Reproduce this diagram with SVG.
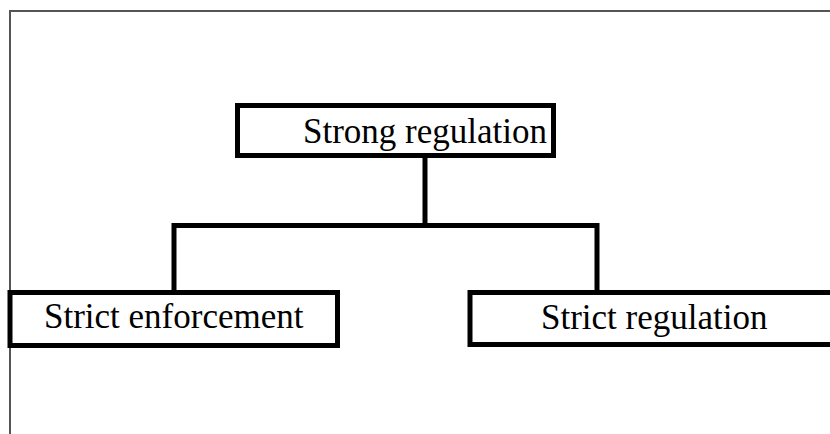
<svg xmlns="http://www.w3.org/2000/svg" width="830" height="434" viewBox="0 0 830 434">
  <style>
    .frame { fill: none; stroke: #555555; stroke-width: 2; }
    .box { fill: #ffffff; stroke: #000000; stroke-width: 5; }
    .conn { fill: none; stroke: #000000; stroke-width: 5; stroke-linecap: square; }
    .label { font-family: "Liberation Serif", "Times New Roman", serif; font-size: 35px; fill: #000000; }
  </style>
  <rect x="0" y="0" width="830" height="434" fill="#ffffff"/>
  <g id="frame">
    <path class="frame" d="M10,434 V11 H830"/>
  </g>
  <g id="connectors">
    <path class="conn" d="M425,158 V225.5"/>
    <path class="conn" d="M174,290 V225.5 H597 V290"/>
  </g>
  <g id="node-strong-regulation">
    <rect class="box" x="237.5" y="105.5" width="316" height="50"/>
    <text class="label" x="303" y="143">Strong regulation</text>
  </g>
  <g id="node-strict-enforcement">
    <rect class="box" x="10" y="292.5" width="327.5" height="53"/>
    <text class="label" x="44" y="328">Strict enforcement</text>
  </g>
  <g id="node-strict-regulation">
    <rect class="box" x="470" y="292.5" width="380" height="52"/>
    <text class="label" x="541" y="329">Strict regulation</text>
  </g>
</svg>
